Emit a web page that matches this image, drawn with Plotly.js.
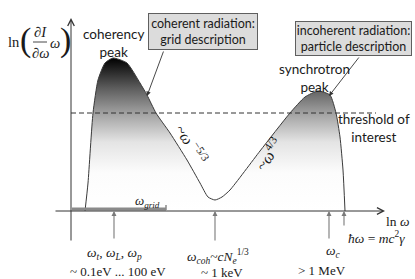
<!DOCTYPE html>
<html><head><meta charset="utf-8">
<script src="https://cdn.plot.ly/plotly-3.0.1.min.js"></script>
<style>html,body{margin:0;padding:0;background:#fff}#chart{width:415px;height:279px}</style>
</head><body><div id="chart"></div>
<script>
// schematic spectrum: ln(omega) vs ln(dI/domega * omega), arbitrary units
const lnOmega    = [1.4, 1.7, 2.2, 2.7, 3.4, 4.2, 5.6, 6.9, 7.6, 8.5, 9.9, 11.6, 12.9, 13.7, 14.4, 15.1, 15.9, 18.9, 21.9, 23.4, 24.7, 25.9, 26.5, 26.9, 27.2, 27.4];
const lnSpectrum = [0.0, 2.8, 9.8, 13.1, 14.8, 15.3, 14.8, 12.8, 11.6, 9.8, 7.8, 5.1, 2.8, 1.4, 1.1, 1.4, 2.1, 6.0, 9.8, 11.4, 12.0, 11.6, 9.8, 7.4, 4.1, 0.0];
const thresholdLevel = 9.8;
const gridLimit = 9.5;
const markerOmega = [4.3, 14.4, 25.8, 27.3];
const markerNames = [
  '<i>ω</i><sub><i>t</i></sub>, <i>ω</i><sub><i>L</i></sub>, <i>ω</i><sub><i>p</i></sub>',
  '<i>ω</i><sub><i>coh</i></sub>~<i>cN</i><sub><i>e</i></sub><sup>1/3</sup>',
  '<i>ω</i><sub><i>c</i></sub>',
  '<i>ħω</i> = <i>mc</i><sup>2</sup><i>γ</i>'
];
const energyLabels = ['~ 0.1eV ... 100 eV', '~ 1 keV', '> 1 MeV'];

const W = 415, H = 279;
const SANS = 'Lato, "Open Sans", sans-serif';
const SERIF = '"Liberation Serif", "DejaVu Serif", serif';
function A(text, px, py, o) {
  return Object.assign({xref:'paper', yref:'paper', x:px/W, y:1-py/H, text:text, showarrow:false,
    xanchor:'center', yanchor:'middle', font:{family:SANS, size:13.5, color:'#1a1a1a'}}, o||{});
}
function arrow(x, y, ax, ay, o) {
  return Object.assign({xref:'x', yref:'y', axref:'x', ayref:'y', x:x, y:y, ax:ax, ay:ay, text:'',
    showarrow:true, arrowhead:2, arrowsize:1, arrowwidth:1, arrowcolor:'#333'}, o||{});
}
function arrowPx(tx, ty, sx, sy, o) {
  return arrow((tx-71)/10, (211-ty)/10, (sx-71)/10, (211-sy)/10, o);
}

const trace = {
  x: lnOmega, y: lnSpectrum, type:'scatter', mode:'lines',
  line:{shape:'spline', smoothing:0.55, color:'#3a3a3a', width:1},
  fill:'tozeroy',
  fillgradient:{type:'vertical', start:0, stop:15.3,
    colorscale:[[0,'#ffffff'],[0.25,'#fcfcfc'],[0.45,'#e4e4e4'],[0.63,'#a4a4a4'],[0.8,'#5e5e5e'],[1,'#000000']]},
  hoverinfo:'skip'
};

const annotations = [];
annotations.push(arrow(31.4, 0, -1.7, 0, {arrowhead:5, arrowsize:1.3, arrowwidth:1, arrowcolor:'#333'}));
annotations.push(arrow(0, 19.3, 0, -3.1, {arrowhead:5, arrowsize:1.3, arrowwidth:1, arrowcolor:'#333'}));
const markerTail = [-2.9, -3.1, -2.9, -1.6];
markerOmega.forEach((m, i) => annotations.push(arrow(m, 0, m, markerTail[i], {arrowhead:2, arrowsize:0.9, arrowwidth:1.1, arrowcolor:'#7a7a7a'})));
annotations.push(arrowPx(147, 96, 164, 50, {arrowhead:2, arrowsize:1, arrowwidth:0.9}));
annotations.push(arrowPx(329, 96, 360, 56, {arrowhead:2, arrowsize:1, arrowwidth:0.9}));

annotations.push(A('coherency<br>peak', 113, 43));
annotations.push(A('synchrotron<br>peak', 314, 78));
annotations.push(A('threshold of<br>interest', 374, 128));
annotations.push(A('coherent radiation:<br>grid description', 202.5, 32,
  {font:{family:SANS, size:12.5, color:'#1a1a1a'}, bgcolor:'#dcdcdc', bordercolor:'#5f5f5f', borderwidth:1, borderpad:1, width:106, height:33}));
annotations.push(A('incoherent radiation:<br>particle description', 353, 38.5,
  {font:{family:SANS, size:12.5, color:'#1a1a1a'}, bgcolor:'#dcdcdc', bordercolor:'#5f5f5f', borderwidth:1, borderpad:1, width:113, height:31}));
annotations.push(A('~<i>ω</i><sup> −5/3</sup>', 192, 144, {textangle:57, font:{family:SERIF, size:16, color:'#1a1a1a'}}));
annotations.push(A('~<i>ω</i><sup>4/3</sup>', 268, 154, {textangle:-56, font:{family:SERIF, size:16, color:'#1a1a1a'}}));
annotations.push(A('<i>ω</i><sub><i>grid</i></sub>', 147, 201, {font:{family:SERIF, size:13, color:'#1a1a1a'}}));
annotations.push(A('ln <i>ω</i>', 397, 221, {font:{family:SERIF, size:13.5, color:'#1a1a1a'}}));

const nameSpots = [[114,253],[218,256],[333,251],[376,237]];
markerNames.forEach((t, i) => annotations.push(A(t, nameSpots[i][0], nameSpots[i][1], {font:{family:SERIF, size:13.5, color:'#1a1a1a'}})));
const energySpots = [[118,271],[222,272],[322,270]];
energyLabels.forEach((t, i) => annotations.push(A(t, energySpots[i][0], energySpots[i][1], {font:{family:SERIF, size:13, color:'#1a1a1a'}})));

const YF = {family:SERIF, size:14.5, color:'#1a1a1a'};
annotations.push(A('ln', 14, 42, {font:YF}));
annotations.push(A('(', 25, 40, {font:{family:SERIF, size:34, color:'#1a1a1a'}}));
annotations.push(A('<i>∂I</i>', 40, 32, {font:YF}));
annotations.push(A('<i>∂ω</i>', 40, 53, {font:YF}));
annotations.push(A('<i>ω</i>', 55, 43, {font:YF}));
annotations.push(A(')', 65, 40, {font:{family:SERIF, size:34, color:'#1a1a1a'}}));

const shapes = [
  {type:'line', xref:'x', yref:'y', x0:0, x1:30.5, y0:thresholdLevel, y1:thresholdLevel, line:{color:'#333', width:1, dash:'5px,3px'}},
  {type:'line', xref:'x', yref:'y', x0:0.1, x1:gridLimit, y0:0.2, y1:0.2, line:{color:'#8a8a8a', width:3}},
  {type:'line', xref:'x', yref:'y', x0:gridLimit, x1:gridLimit, y0:0.1, y1:0.6, line:{color:'#8a8a8a', width:1.5}},
  {type:'line', xref:'paper', yref:'paper', x0:33/W, x1:47/W, y0:1-42/H, y1:1-42/H, line:{color:'#1a1a1a', width:0.8}}
];

const layout = {
  width:W, height:H, margin:{l:0, r:0, t:0, b:0},
  paper_bgcolor:'#fff', plot_bgcolor:'#fff', showlegend:false,
  xaxis:{range:[-7.1, 34.4], visible:false, fixedrange:true},
  yaxis:{range:[-6.8, 21.1], visible:false, fixedrange:true},
  annotations:annotations, shapes:shapes
};
Plotly.newPlot('chart', [trace], layout, {staticPlot:true, displayModeBar:false});
</script></body></html>
